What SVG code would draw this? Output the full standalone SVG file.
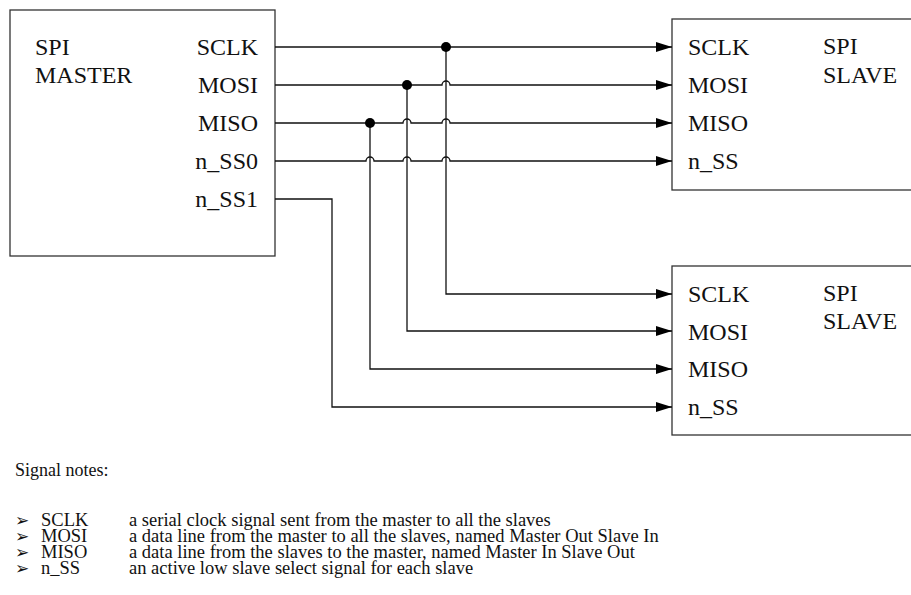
<svg xmlns="http://www.w3.org/2000/svg" width="911" height="595" viewBox="0 0 911 595">
<defs>
<style>
.box{fill:#fff;stroke:#333;stroke-width:1.3}
.w{fill:none;stroke:#111;stroke-width:1.3}
.dot{fill:#000}
</style>
<marker id="ah" viewBox="0 0 16 10" refX="16" refY="5" markerWidth="16" markerHeight="10" markerUnits="userSpaceOnUse" orient="auto">
<path d="M0,0 L16,5 L0,10 z" fill="#000"/>
</marker>
</defs>
<rect width="911" height="595" fill="#fff"/>
<g id="master">
<rect class="box" x="10" y="10" width="265" height="246"/>
<text x="35" y="55" font-family="Liberation Serif" font-size="24" fill="#111">SPI</text>
<text x="35" y="83" font-family="Liberation Serif" font-size="24" fill="#111">MASTER</text>
<text x="258" y="55" text-anchor="end" font-family="Liberation Serif" font-size="24" fill="#111">SCLK</text>
<text x="258" y="93" text-anchor="end" font-family="Liberation Serif" font-size="24" fill="#111">MOSI</text>
<text x="258" y="131" text-anchor="end" font-family="Liberation Serif" font-size="24" fill="#111">MISO</text>
<text x="258" y="169" text-anchor="end" font-family="Liberation Serif" font-size="24" fill="#111">n_SS0</text>
<text x="258" y="207" text-anchor="end" font-family="Liberation Serif" font-size="24" fill="#111">n_SS1</text>
</g>
<g id="slave0">
<rect class="box" x="672" y="19" width="245" height="171"/>
<text x="688" y="55" font-family="Liberation Serif" font-size="24" fill="#111">SCLK</text>
<text x="688" y="93" font-family="Liberation Serif" font-size="24" fill="#111">MOSI</text>
<text x="688" y="131" font-family="Liberation Serif" font-size="24" fill="#111">MISO</text>
<text x="688" y="169" font-family="Liberation Serif" font-size="24" fill="#111">n_SS</text>
<text x="823" y="54" font-family="Liberation Serif" font-size="24" fill="#111">SPI</text>
<text x="823" y="83" font-family="Liberation Serif" font-size="24" fill="#111">SLAVE</text>
</g>
<g id="slave1">
<rect class="box" x="672" y="266" width="245" height="169"/>
<text x="688" y="302" font-family="Liberation Serif" font-size="24" fill="#111">SCLK</text>
<text x="688" y="340" font-family="Liberation Serif" font-size="24" fill="#111">MOSI</text>
<text x="688" y="377" font-family="Liberation Serif" font-size="24" fill="#111">MISO</text>
<text x="688" y="415" font-family="Liberation Serif" font-size="24" fill="#111">n_SS</text>
<text x="823" y="301" font-family="Liberation Serif" font-size="24" fill="#111">SPI</text>
<text x="823" y="329" font-family="Liberation Serif" font-size="24" fill="#111">SLAVE</text>
</g>
<g id="connectors">
<path class="w" d="M275,47 H672" marker-end="url(#ah)"/>
<path class="w" d="M275,85 H442 A4,4 0 0 1 450,85 H672" marker-end="url(#ah)"/>
<path class="w" d="M275,123 H403 A4,4 0 0 1 411,123 H442 A4,4 0 0 1 450,123 H672" marker-end="url(#ah)"/>
<path class="w" d="M275,161 H366 A4,4 0 0 1 374,161 H403 A4,4 0 0 1 411,161 H442 A4,4 0 0 1 450,161 H672" marker-end="url(#ah)"/>
<path class="w" d="M446,47 V294 H672" marker-end="url(#ah)"/>
<path class="w" d="M407,85 V331 H672" marker-end="url(#ah)"/>
<path class="w" d="M370,123 V369 H672" marker-end="url(#ah)"/>
<path class="w" d="M275,199 H332 V407 H672" marker-end="url(#ah)"/>
<circle class="dot" cx="446" cy="47" r="5"/>
<circle class="dot" cx="407" cy="85" r="5"/>
<circle class="dot" cx="370" cy="123" r="5"/>
</g>
<g id="notes">
<text x="15" y="476" font-family="Liberation Serif" font-size="18" fill="#111">Signal notes:</text>
<text x="15" y="526" font-family="DejaVu Sans" font-size="17" fill="#111">➢</text>
<text x="15" y="542" font-family="DejaVu Sans" font-size="17" fill="#111">➢</text>
<text x="15" y="558" font-family="DejaVu Sans" font-size="17" fill="#111">➢</text>
<text x="15" y="574" font-family="DejaVu Sans" font-size="17" fill="#111">➢</text>
<text x="41" y="526" font-family="Liberation Serif" font-size="18.5" fill="#111">SCLK</text>
<text x="129" y="526" font-family="Liberation Serif" font-size="18.5" fill="#111">a serial clock signal sent from the master to all the slaves</text>
<text x="41" y="542" font-family="Liberation Serif" font-size="18.5" fill="#111">MOSI</text>
<text x="129" y="542" font-family="Liberation Serif" font-size="18.5" fill="#111">a data line from the master to all the slaves, named Master Out Slave In</text>
<text x="41" y="558" font-family="Liberation Serif" font-size="18.5" fill="#111">MISO</text>
<text x="129" y="558" font-family="Liberation Serif" font-size="18.5" fill="#111">a data line from the slaves to the master, named Master In Slave Out</text>
<text x="41" y="574" font-family="Liberation Serif" font-size="18.5" fill="#111">n_SS</text>
<text x="129" y="574" font-family="Liberation Serif" font-size="18.5" fill="#111">an active low slave select signal for each slave</text>
</g>
</svg>
